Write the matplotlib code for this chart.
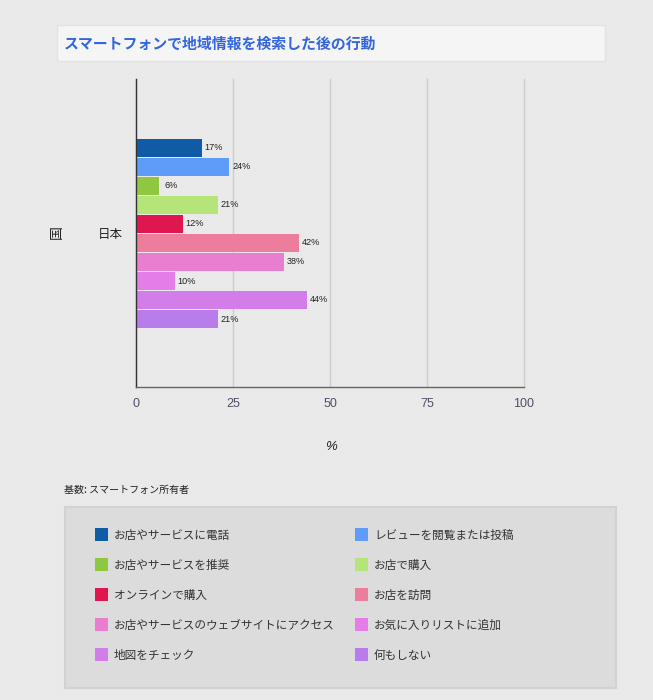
import matplotlib
matplotlib.use("Agg")
import matplotlib.pyplot as plt
from matplotlib.patches import Rectangle
import numpy as np

plt.rcParams["font.family"] = ["Noto Sans CJK JP", "DejaVu Sans"]

title = "スマートフォンで地域情報を検索した後の行動"
base_note = "基数: スマートフォン所有者"
country = "日本"
x_ticks = [0, 25, 50, 75, 100]

categories = [
    "お店やサービスに電話",
    "レビューを閲覧または投稿",
    "お店やサービスを推奨",
    "お店で購入",
    "オンラインで購入",
    "お店を訪問",
    "お店やサービスのウェブサイトにアクセス",
    "お気に入りリストに追加",
    "地図をチェック",
    "何もしない",
]
values = [17, 24, 6, 21, 12, 42, 38, 10, 44, 21]
colors = [
    "#0f5ba6", "#5f9bf8", "#8fc840", "#b5e578", "#e0174f",
    "#ec7d9c", "#e97dd0", "#e47de8", "#d27dea", "#b87deb",
]

W, H = 653, 700


def px_box(left, top, right, bottom):
    # figure fractions from pixel edges measured from the top left
    return [left / W, 1 - bottom / H, (right - left) / W, (bottom - top) / H]


fig = plt.figure(figsize=(W / 100, H / 100), dpi=100, facecolor="#e9e9e9")

# fine dotted page texture
yy, xx = np.mgrid[0:H, 0:W]
texture = np.where((xx + yy) % 2 == 0, 0.925, 0.905)
fig.figimage(texture, cmap="gray", vmin=0, vmax=1, zorder=-1)


def add_box(left, top, right, bottom, fc, ec, lw):
    fig.add_artist(Rectangle((left / W, 1 - bottom / H), (right - left) / W,
                             (bottom - top) / H, transform=fig.transFigure,
                             fc=fc, ec=ec, lw=lw, zorder=1))


# title panel
add_box(56.5, 25.5, 604.5, 60.5, "#f5f5f5", "#e2e2e2", 1)
fig.text(64 / W, 1 - 49 / H, title, fontsize=10.75, fontweight="bold",
         color="#3366dd", ha="left", va="baseline", zorder=3)

# bar chart
ax = fig.add_axes(px_box(136.2, 79, 524, 387))
ax.set_zorder(2)
ax.patch.set_alpha(0)
y = np.arange(len(values))
# bars stay under the spines so the axis line remains visible
ax.barh(y, values, height=18 / 19, color=colors, zorder=2)
for yi, v in zip(y, values):
    ax.annotate(f"{v}%", (v, yi), xytext=(8.6, 0), textcoords="offset points",
                ha="center", va="center", fontsize=6.6,
                family="Liberation Sans", color="#222222", zorder=4)

ax.set_xlim(0, 100)
# 19 px per bar slot, bars centred at about 233.5 px
ax.set_ylim(4.5 + 153.5 / 19, 4.5 - 154.5 / 19)
ax.set_xticks(x_ticks)
ax.set_yticks([])
ax.tick_params(axis="x", length=0, pad=8, labelsize=9, labelcolor="#554c66")
for lab in ax.get_xticklabels():
    lab.set_family("Liberation Sans")
ax.grid(axis="x", color="#cccccc", lw=1, zorder=1)
ax.set_axisbelow(True)
for line in ax.get_xgridlines():
    line.set_clip_on(False)
for side in ["top", "right"]:
    ax.spines[side].set_visible(False)
ax.spines["left"].set_color("#333333")
ax.spines["bottom"].set_color("#666666")
for side in ["left", "bottom"]:
    ax.spines[side].set_linewidth(1)

fig.text(110 / W, 1 - 238 / H, country, fontsize=9, color="#222222",
         ha="center", va="baseline", zorder=3)
fig.text(56.5 / W, 1 - 232 / H, "国", fontsize=10, rotation=90, color="#222222",
         ha="center", va="center", zorder=3)
fig.text(331 / W, 1 - 450 / H, "%", fontsize=9.5, style="italic",
         family="Liberation Sans", color="#222222", ha="center", va="baseline", zorder=3)
fig.text(64 / W, 1 - 492.5 / H, base_note, fontsize=7.2, color="#222222",
         ha="left", va="baseline", zorder=3)

# legend panel, two columns filled row by row
add_box(65, 507, 616, 688, "#dcdcdc", "#d2d2d2", 1.5)
for i, (name, col) in enumerate(zip(categories, colors)):
    row, column = divmod(i, 2)
    sx = 95 + 260 * column
    sy = 527.5 + 30 * row
    fig.add_artist(Rectangle((sx / W, 1 - (sy + 13) / H), 13 / W, 13 / H,
                             transform=fig.transFigure, fc=col, ec="none", zorder=2))
    fig.text((sx + 19) / W, 1 - (sy + 11) / H, name, fontsize=8.4,
             color="#333333", ha="left", va="baseline", zorder=3)

fig.savefig("out.png", dpi=100, facecolor=fig.get_facecolor())
